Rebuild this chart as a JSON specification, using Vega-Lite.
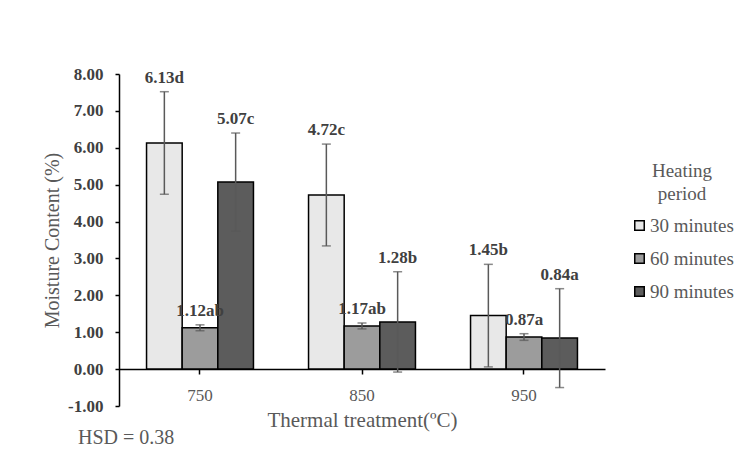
{
  "$schema": "https://vega.github.io/schema/vega-lite/v6.json",
  "width": 486,
  "height": 332,
  "padding": {"left": 42, "top": 65, "right": 5, "bottom": 5},
  "background": "white",
  "title": {
    "text": "HSD = 0.38",
    "orient": "bottom",
    "anchor": "start",
    "frame": "group",
    "dx": -41,
    "offset": -2,
    "font": "Liberation Serif",
    "fontSize": 20,
    "fontWeight": "normal",
    "color": "#595959"
  },
  "config": {
    "font": "Liberation Serif",
    "view": {"stroke": null},
    "axis": {"grid": false}
  },
  "resolve": {"axis": {"y": "independent"}},
  "data": {
    "values": [
      {"temp": "750", "period": "30 minutes", "value": 6.13, "lo": 4.74, "hi": 7.52, "label": "6.13d"},
      {"temp": "750", "period": "60 minutes", "value": 1.12, "lo": 1.04, "hi": 1.20, "label": "1.12ab"},
      {"temp": "750", "period": "90 minutes", "value": 5.07, "lo": 3.74, "hi": 6.40, "label": "5.07c"},
      {"temp": "850", "period": "30 minutes", "value": 4.72, "lo": 3.34, "hi": 6.10, "label": "4.72c"},
      {"temp": "850", "period": "60 minutes", "value": 1.17, "lo": 1.09, "hi": 1.25, "label": "1.17ab"},
      {"temp": "850", "period": "90 minutes", "value": 1.28, "lo": -0.08, "hi": 2.64, "label": "1.28b"},
      {"temp": "950", "period": "30 minutes", "value": 1.45, "lo": 0.06, "hi": 2.84, "label": "1.45b"},
      {"temp": "950", "period": "60 minutes", "value": 0.87, "lo": 0.78, "hi": 0.96, "label": "0.87a"},
      {"temp": "950", "period": "90 minutes", "value": 0.84, "lo": -0.50, "hi": 2.18, "label": "0.84a"}
    ]
  },
  "encoding": {
    "x": {
      "field": "temp",
      "type": "nominal",
      "scale": {"paddingInner": 0.34, "paddingOuter": 0.17},
      "axis": {
        "title": "Thermal treatment(ºC)",
        "labelAngle": 0,
        "offset": -37,
        "domainColor": "black",
        "domainWidth": 1.5,
        "tickColor": "black",
        "tickWidth": 1.5,
        "tickSize": 5,
        "labelFont": "Liberation Serif",
        "labelFontSize": 17,
        "labelColor": "#595959",
        "labelPadding": 13,
        "titleFont": "Liberation Serif",
        "titleFontSize": 21,
        "titleFontWeight": "normal",
        "titleColor": "#595959",
        "titlePadding": 6
      }
    },
    "xOffset": {"field": "period", "type": "nominal", "scale": {"paddingInner": 0, "paddingOuter": 0}}
  },
  "layer": [
    {
      "mark": {"type": "bar", "stroke": "black", "strokeWidth": 1.5},
      "encoding": {
        "y": {
          "field": "value",
          "type": "quantitative",
          "scale": {"domain": [-1, 8], "nice": false},
          "axis": {
            "title": "Moisture Content (%)",
            "values": [-1, 0, 1, 2, 3, 4, 5, 6, 7, 8],
            "labelExpr": "replace(format(datum.value, '.2f'), '\u2212', '-')",
            "labelOverlap": false,
            "domainColor": "black",
            "domainWidth": 1.5,
            "tickColor": "black",
            "tickWidth": 1.5,
            "tickSize": 4,
            "labelFont": "Liberation Serif",
            "labelFontSize": 17,
            "labelFontWeight": "bold",
            "labelColor": "#404040",
            "labelPadding": 12,
            "titleFont": "Liberation Serif",
            "titleFontSize": 20,
            "titleFontWeight": "normal",
            "titleColor": "#595959",
            "titlePadding": 5
          }
        },
        "fill": {
          "field": "period",
          "type": "nominal",
          "scale": {"range": ["#e8e8e8", "#9c9c9c", "#5c5c5c"]},
          "legend": {
            "title": ["Heating", "period"],
            "orient": "none",
            "legendX": 511,
            "legendY": 88,
            "titleFont": "Liberation Serif",
            "titleFontSize": 19,
            "titleFontWeight": "normal",
            "titleColor": "#595959",
            "titleLineHeight": 23,
            "titlePadding": 12,
            "titleAnchor": "middle",
            "labelFont": "Liberation Serif",
            "labelFontSize": 19,
            "labelColor": "#595959",
            "labelOffset": 1,
            "symbolType": "square",
            "symbolSize": 90,
            "symbolStrokeColor": "black",
            "symbolStrokeWidth": 1.5,
            "rowPadding": 13,
            "labelLimit": 200
          }
        }
      }
    },
    {
      "mark": {"type": "rule", "color": "#595959", "strokeWidth": 1.5},
      "encoding": {
        "y": {"field": "lo", "type": "quantitative", "axis": null},
        "y2": {"field": "hi"}
      }
    },
    {
      "mark": {"type": "tick", "color": "#595959", "thickness": 1.5, "size": 9},
      "encoding": {"y": {"field": "hi", "type": "quantitative", "axis": null}}
    },
    {
      "mark": {"type": "tick", "color": "#595959", "thickness": 1.5, "size": 9},
      "encoding": {"y": {"field": "lo", "type": "quantitative", "axis": null}}
    },
    {
      "mark": {"type": "text", "font": "Liberation Serif", "fontSize": 17, "fontWeight": "bold", "color": "#404040", "dy": -9, "baseline": "alphabetic"},
      "encoding": {
        "y": {"field": "hi", "type": "quantitative", "axis": null},
        "text": {"field": "label"}
      }
    }
  ]
}
